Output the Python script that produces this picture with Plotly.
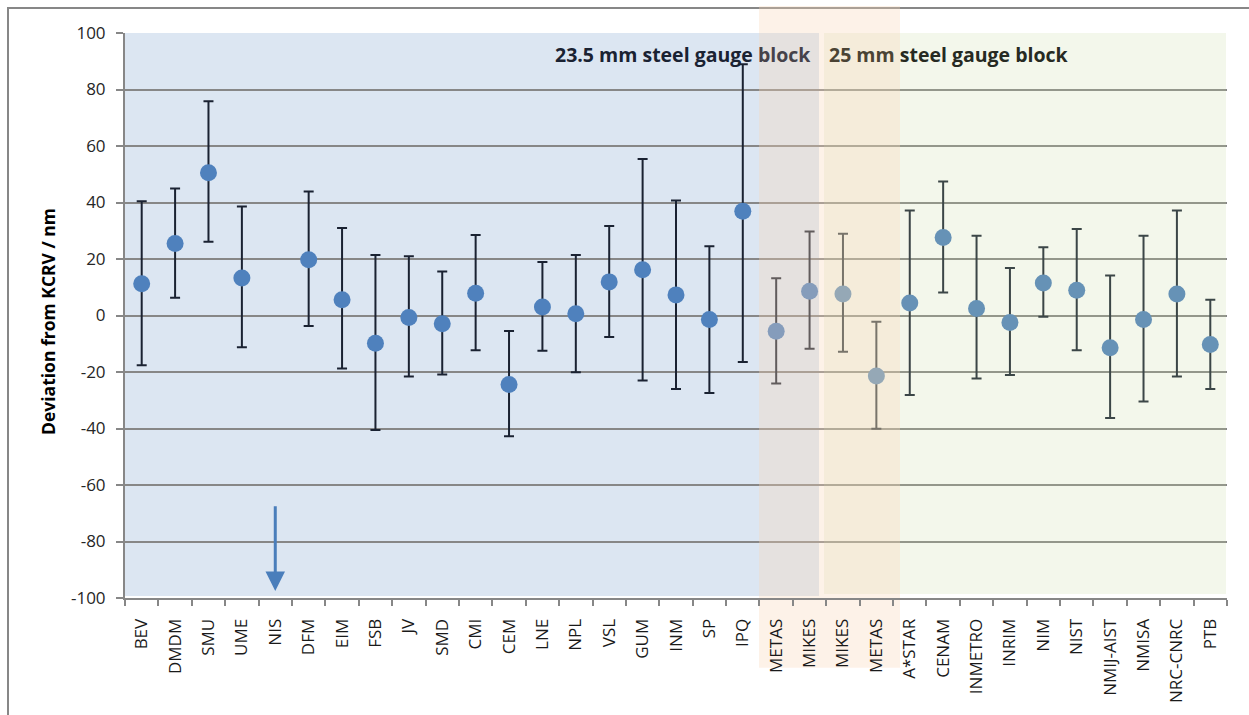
import plotly.graph_objects as go

# ---------------- data ----------------
categories = ["BEV", "DMDM", "SMU", "UME", "NIS", "DFM", "EIM", "FSB", "JV", "SMD",
              "CMI", "CEM", "LNE", "NPL", "VSL", "GUM", "INM", "SP", "IPQ",
              "METAS", "MIKES", "MIKES", "METAS",
              "A*STAR", "CENAM", "INMETRO", "INRIM", "NIM", "NIST", "NMIJ-AIST",
              "NMISA", "NRC-CNRC", "PTB"]
deviation = [11.2, 25.5, 50.5, 13.3, None, 19.7, 5.6, -9.8, -0.7, -2.9,
             7.9, -24.4, 3.0, 0.6, 11.9, 16.2, 7.3, -1.4, 36.9,
             -5.6, 8.6, 7.6, -21.4,
             4.4, 27.6, 2.5, -2.5, 11.5, 8.9, -11.4, -1.4, 7.6, -10.3]
unc_plus = [29.2, 19.5, 25.3, 25.3, None, 24.2, 25.4, 31.2, 21.7, 18.5,
            20.6, 18.9, 15.9, 20.8, 19.8, 39.2, 33.4, 25.9, 52.0,
            18.8, 21.1, 21.3, 19.2,
            32.8, 19.8, 25.7, 19.3, 12.7, 21.7, 25.6, 29.6, 29.6, 15.9]
unc_minus = [28.8, 19.2, 24.4, 24.5, None, 23.4, 24.4, 30.7, 20.9, 18.0,
             20.2, 18.3, 15.5, 20.7, 19.5, 39.2, 33.3, 26.0, 53.4,
             18.5, 20.4, 20.4, 18.7,
             32.5, 19.5, 24.8, 18.6, 11.9, 21.2, 24.9, 29.0, 29.2, 15.7]
y_ticks = [-100, -80, -60, -40, -20, 0, 20, 40, 60, 80, 100]
y_tick_labels = ["-100", "-80", "-60", "-40", "-20", "0", "20", "40", "60", "80", "100"]
arrow_category = "NIS"
arrow_from, arrow_to = -67, -97.5

x_idx = list(range(len(categories)))

# ---------------- figure geometry ----------------
W, H = 1249, 715
ML, MR, MT, MB = 125, 22, 33, 115
PW, PH = W - ML - MR, H - MT - MB


def px(xp):
    return (xp - ML) / PW


def py(yp):
    return (H - MB - yp) / PH


FONT = "Open Sans"

fig = go.Figure()
fig.add_trace(go.Scatter(
    x=x_idx, y=deviation, mode="markers",
    marker=dict(size=17, color="#4f81bd", line=dict(width=0)),
    error_y=dict(type="data", symmetric=False, array=unc_plus, arrayminus=unc_minus,
                 color="#1a2232", thickness=2, width=5),
    showlegend=False, hoverinfo="x+y",
))

shapes = []
# outer frame
shapes.append(dict(type="rect", xref="paper", yref="paper",
                   x0=px(8), x1=px(1260), y0=py(730), y1=py(8),
                   line=dict(color="#878787", width=2), fillcolor="rgba(0,0,0,0)", layer="below"))
# blue band (23.5 mm)
shapes.append(dict(type="rect", xref="paper", yref="paper",
                   x0=0, x1=px(819), y0=py(598), y1=1,
                   line=dict(width=0), fillcolor="#dce6f2", layer="below"))
# green band (25 mm) overlay
shapes.append(dict(type="rect", xref="paper", yref="paper",
                   x0=px(824), x1=px(1226), y0=py(596), y1=1,
                   line=dict(width=0), fillcolor="rgba(196,215,155,0.2)", layer="above"))
# peach overlay: inside plot above, outside below labels
peach = "rgba(250,214,184,0.32)"
shapes.append(dict(type="rect", xref="paper", yref="paper",
                   x0=px(759), x1=px(900), y0=0, y1=1,
                   line=dict(width=0), fillcolor=peach, layer="above"))
shapes.append(dict(type="rect", xref="paper", yref="paper",
                   x0=px(759), x1=px(900), y0=1, y1=py(6),
                   line=dict(width=0), fillcolor=peach, layer="below"))
shapes.append(dict(type="rect", xref="paper", yref="paper",
                   x0=px(759), x1=px(900), y0=py(670), y1=0,
                   line=dict(width=0), fillcolor=peach, layer="below"))

annotations = [
    dict(xref="paper", yref="paper", x=px(813), y=py(55), xanchor="right", yanchor="middle",
         text="<b>23.5 mm steel gauge <span style='color:#46424a'>block</span></b>",
         showarrow=False, font=dict(family=FONT, size=19.5, color="#1a2232")),
    dict(xref="paper", yref="paper", x=px(827), y=py(55), xanchor="left", yanchor="middle",
         text="<b><span style='color:#4a4334'>25 mm </span>steel gauge block</b>",
         showarrow=False, font=dict(family=FONT, size=19.5, color="#262a22")),
    dict(xref="paper", yref="paper", x=px(48), y=py(323), xanchor="center", yanchor="middle",
         text="<b>Deviation from KCRV / nm</b>", textangle=-90,
         showarrow=False, font=dict(family=FONT, size=17.5, color="#000000")),
    dict(xref="x", yref="y", axref="x", ayref="y",
         x=categories.index(arrow_category), y=arrow_to,
         ax=categories.index(arrow_category), ay=arrow_from,
         showarrow=True, arrowhead=2, arrowsize=1.3, arrowwidth=3, arrowcolor="#4a7ebb",
         text=""),
]

fig.update_layout(
    width=W, height=H,
    margin=dict(l=ML, r=MR, t=MT, b=MB, pad=0),
    paper_bgcolor="white", plot_bgcolor="rgba(0,0,0,0)",
    font=dict(family=FONT, size=17, color="#262626"),
    shapes=shapes, annotations=annotations,
    xaxis=dict(
        range=[-0.5, len(categories) - 0.5],
        tickmode="array", tickvals=x_idx, ticktext=categories,
        tickangle=-90, ticks="", showgrid=False, zeroline=False,
        showline=True, linecolor="#878787", linewidth=2,
        ticklabelstandoff=12,
        minor=dict(ticks="outside", ticklen=6, tickcolor="#878787", tickwidth=2,
                   tick0=0.5, dtick=1, showgrid=False),
        tickfont=dict(family=FONT, size=17, color="#1a1a1a"),
        fixedrange=True,
    ),
    yaxis=dict(
        range=[-100, 100], tickmode="array", tickvals=y_ticks, ticktext=y_tick_labels,
        ticks="outside", ticklen=7, tickcolor="#878787", tickwidth=2,
        ticklabelstandoff=7,
        showgrid=True, gridcolor="#878787", gridwidth=1.5,
        zeroline=False, showline=True, linecolor="#878787", linewidth=2,
        tickfont=dict(family=FONT, size=17, color="#262626"),
        fixedrange=True,
    ),
)

fig.write_html("out.html")
